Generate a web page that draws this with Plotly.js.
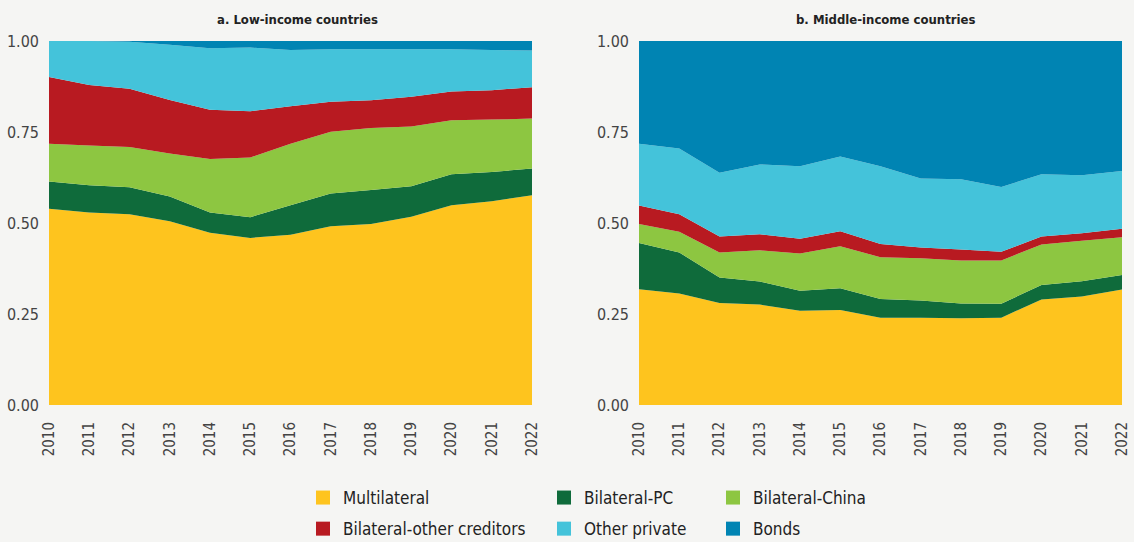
<!DOCTYPE html>
<html>
<head>
<meta charset="utf-8">
<script src="https://cdn.plot.ly/plotly-3.0.1.min.js"></script>
<style>html,body{margin:0;padding:0;background:#f5f5f3;}#chart{width:1134px;height:542px;}</style>
</head>
<body>
<div id="chart"></div>
<script>
const years = [2010,2011,2012,2013,2014,2015,2016,2017,2018,2019,2020,2021,2022];
const yearLabels = years.map(String);
const seriesNames = ['Multilateral','Bilateral-PC','Bilateral-China','Bilateral-other creditors','Other private','Bonds'];
const seriesColors = ['#fec41e','#0f6b3b','#8dc641','#b81a21','#44c3da','#0084b3'];
const panelTitles = ['a. Low-income countries','b. Middle-income countries'];
const yTicks = [0,0.25,0.5,0.75,1];

// a. Low-income countries (shares)
const lowMultilateral = [0.539,0.529,0.524,0.505,0.473,0.459,0.468,0.491,0.497,0.517,0.549,0.560,0.576];
const lowBilateralPC  = [0.075,0.075,0.074,0.068,0.056,0.057,0.081,0.090,0.094,0.084,0.085,0.080,0.074];
const lowBilateralChina = [0.104,0.109,0.111,0.118,0.147,0.164,0.169,0.170,0.170,0.164,0.148,0.144,0.137];
const lowBilateralOther = [0.183,0.166,0.160,0.147,0.135,0.127,0.103,0.082,0.076,0.082,0.079,0.081,0.086];
const lowOtherPrivate = [0.099,0.121,0.129,0.152,0.169,0.175,0.154,0.144,0.140,0.130,0.116,0.110,0.101];
const lowBonds = [0.000,0.000,0.002,0.010,0.020,0.018,0.025,0.023,0.023,0.023,0.023,0.025,0.026];

// b. Middle-income countries (shares)
const midMultilateral = [0.318,0.306,0.280,0.276,0.259,0.261,0.240,0.240,0.238,0.240,0.290,0.298,0.317];
const midBilateralPC  = [0.127,0.113,0.070,0.063,0.055,0.060,0.051,0.047,0.041,0.038,0.040,0.042,0.040];
const midBilateralChina = [0.052,0.057,0.069,0.086,0.102,0.115,0.115,0.116,0.118,0.119,0.111,0.111,0.104];
const midBilateralOther = [0.051,0.048,0.044,0.044,0.041,0.041,0.036,0.030,0.030,0.024,0.022,0.021,0.023];
const midOtherPrivate = [0.170,0.181,0.175,0.192,0.199,0.206,0.214,0.189,0.193,0.178,0.171,0.159,0.159];
const midBonds = [0.282,0.295,0.362,0.339,0.344,0.317,0.344,0.378,0.380,0.401,0.366,0.369,0.357];

const lowSeries = [lowMultilateral,lowBilateralPC,lowBilateralChina,lowBilateralOther,lowOtherPrivate,lowBonds];
const midSeries = [midMultilateral,midBilateralPC,midBilateralChina,midBilateralOther,midOtherPrivate,midBonds];

const FONT = '"DejaVu Sans Condensed", "Liberation Sans Narrow", sans-serif';
const traces = [];
[[lowSeries,'x','y','a'],[midSeries,'x2','y2','b']].forEach(([ser,xa,ya,sg]) => {
  ser.forEach((vals,i) => {
    traces.push({
      type:'scatter', x:years, y:vals, xaxis:xa, yaxis:ya,
      stackgroup:sg, mode:'none', fill: i===0 ? 'tozeroy' : 'tonexty',
      fillcolor:seriesColors[i], line:{width:0}, name:seriesNames[i],
      showlegend:false, hoverinfo:'skip'
    });
  });
});
const legendIds = ['legend','legend2','legend3','legend','legend2','legend3'];
seriesNames.forEach((n,i) => {
  traces.push({
    type:'scatter', x:[null], y:[null], mode:'markers', name:n,
    marker:{symbol:'square', size:14, color:seriesColors[i]},
    legend:legendIds[i], legendgroup:'g'+i, showlegend:true
  });
});

const W = 1134, H = 542;
const mL = 49, mR = 12, pw = W - mL - mR;
function legendAt(px){
  return {xref:'container', yref:'container', x:px/W, y:1-480/H, xanchor:'left', yanchor:'top',
    orientation:'v', traceorder:'grouped', tracegroupgap:6, bgcolor:'rgba(0,0,0,0)',
    font:{family:FONT, size:17, color:'#222'}, itemclick:false};
}
const yaxisBase = {range:[0,1], tickvals:yTicks, tickformat:'.2f', showgrid:false, zeroline:false,
  showline:false, ticks:'', ticklabelstandoff:9, tickfont:{family:FONT, size:16, color:'#444'}, fixedrange:true};
const xaxisBase = {range:[2010,2022], tickvals:years, ticktext:yearLabels, tickangle:-90, showgrid:false,
  zeroline:false, showline:false, ticks:'', ticklabelstandoff:13, tickfont:{family:FONT, size:15, color:'#444'}, fixedrange:true};

const layout = {
  width:W, height:H,
  margin:{l:mL, r:mR, t:41, b:137, autoexpand:false},
  paper_bgcolor:'#f5f5f3', plot_bgcolor:'#f5f5f3',
  showlegend:true,
  xaxis:Object.assign({}, xaxisBase, {domain:[0,(532-mL)/pw], anchor:'y'}),
  yaxis:Object.assign({}, yaxisBase, {domain:[0,1], anchor:'x'}),
  xaxis2:Object.assign({}, xaxisBase, {domain:[(639-mL)/pw,1], anchor:'y2'}),
  yaxis2:Object.assign({}, yaxisBase, {domain:[0,1], anchor:'x2'}),
  legend:legendAt(303),
  legend2:legendAt(544),
  legend3:legendAt(713),
  annotations:[
    {text:'<b>'+panelTitles[0]+'</b>', xref:'paper', yref:'paper', x:(297-mL)/pw, y:1, yshift:22, xanchor:'center', yanchor:'middle', showarrow:false, font:{family:FONT, size:13, color:'#222'}},
    {text:'<b>'+panelTitles[1]+'</b>', xref:'paper', yref:'paper', x:(885-mL)/pw, y:1, yshift:22, xanchor:'center', yanchor:'middle', showarrow:false, font:{family:FONT, size:13, color:'#222'}}
  ]
};
Plotly.newPlot('chart', traces, layout, {displayModeBar:false, staticPlot:true});
</script>
</body>
</html>
